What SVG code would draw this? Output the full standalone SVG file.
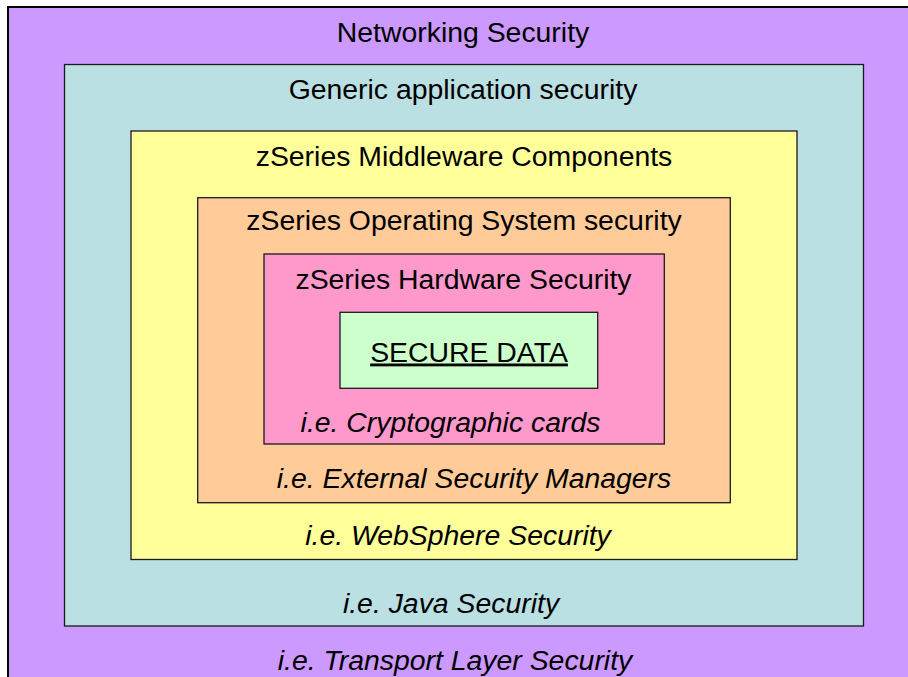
<svg xmlns="http://www.w3.org/2000/svg" width="908" height="677" viewBox="0 0 908 677">
<style>
.box{stroke:#1a1a1a;stroke-width:1.3}
.t{font-family:"Liberation Sans",Arial,sans-serif;font-size:28.4px;fill:#000;text-anchor:middle}
.i{font-style:italic}
</style>
<rect width="908" height="677" fill="#ffffff"/>
<g id="networking">
<rect x="8" y="7" width="920" height="690" fill="#CC99FF" stroke="#000" stroke-width="2"/>
<text class="t" x="463" y="42">Networking Security</text>
<text class="t i" x="455" y="670">i.e. Transport Layer Security</text>
</g>
<g id="generic">
<rect class="box" x="64.5" y="64.5" width="799" height="561.5" fill="#BBE0E3"/>
<text class="t" x="463" y="99">Generic application security</text>
<text class="t i" x="451" y="613">i.e. Java Security</text>
</g>
<g id="middleware">
<rect class="box" x="131" y="131" width="666" height="428.5" fill="#FFFF99"/>
<text class="t" x="464" y="166">zSeries Middleware Components</text>
<text class="t i" x="458" y="545">i.e. WebSphere Security</text>
</g>
<g id="os">
<rect class="box" x="197.7" y="197.7" width="532.6" height="305" fill="#FFCC99"/>
<text class="t" x="464" y="230">zSeries Operating System security</text>
<text class="t i" x="474" y="488">i.e. External Security Managers</text>
</g>
<g id="hardware">
<rect class="box" x="264" y="254" width="400.3" height="190" fill="#FF99CC"/>
<text class="t" x="463.5" y="289">zSeries Hardware Security</text>
<text class="t i" x="450.5" y="432">i.e. Cryptographic cards</text>
</g>
<g id="data">
<rect class="box" x="340" y="312.3" width="257.7" height="76" fill="#CCFFCC"/>
<text class="t" x="469" y="361.5" text-decoration="underline">SECURE DATA</text>
</g>
<g id="connectors"/>
</svg>
